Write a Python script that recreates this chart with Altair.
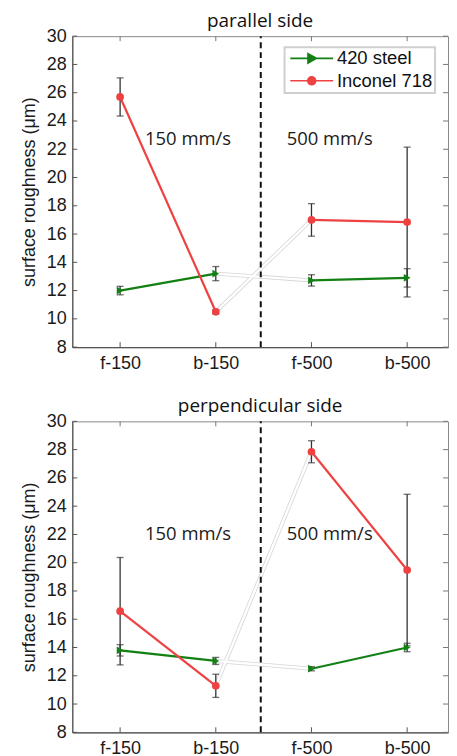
import json
import altair as alt
import pandas as pd

# ---------------- data ----------------
categories = ["f-150", "b-150", "f-500", "b-500"]
positions = [1, 2, 3, 4]
speeds = ["150", "150", "500", "500"]
series_names = ["420 steel", "Inconel 718"]
series_colors = ["#138013", "#ee4242"]

par_steel = [12.0, 13.2, 12.72, 12.9]
par_steel_err = [0.3, 0.5, 0.4, 0.65]
par_inconel = [25.7, 10.5, 17.0, 16.85]
par_inconel_err = [1.35, 0.15, 1.15, 5.3]

perp_steel = [13.8, 13.05, 12.5, 14.0]
perp_steel_err = [0.4, 0.25, 0.15, 0.3]
perp_inconel = [16.57, 11.29, 27.85, 19.48]
perp_inconel_err = [3.8, 0.82, 0.78, 5.36]

y_ticks = [8, 10, 12, 14, 16, 18, 20, 22, 24, 26, 28, 30]
speed_labels = ["150 mm/s", "500 mm/s"]
speed_label_x = [1.71, 3.19]
par_label_y = [22.72, 22.72]
perp_label_y = [22.02, 22.02]
divider_x = 2.47

W, H = 377, 312
X_STEP = 96.0  # pixels between categories

legend_shapes = [
    "M-4.3,0H4.3M-0.75,-0.95L0.95,0L-0.75,0.95Z",
    "M-4.3,0H4.3M0.8,0A0.8,0.8,0,1,1,-0.8,0A0.8,0.8,0,1,1,0.8,0Z",
]


def panel(title, steel, steel_err, inconel, inconel_err, label_y, show_legend):
    rows = []
    for name, vals, errs in ((series_names[0], steel, steel_err),
                             (series_names[1], inconel, inconel_err)):
        for p, c, s, v, e in zip(positions, categories, speeds, vals, errs):
            rows.append(dict(series=name, pos=p, cat=c, speed=s, value=v,
                             lo=v - e, hi=v + e))
    df = pd.DataFrame(rows)
    base = alt.Chart(df)

    xscale = alt.Scale(domain=[0.5, 0.5 + W / X_STEP], nice=False, zero=False)
    yscale = alt.Scale(domain=[8, 30], nice=False, zero=False)
    cscale = alt.Scale(domain=series_names, range=series_colors)

    x_axis = alt.Axis(values=positions, labelExpr=json.dumps(categories) + "[datum.value - 1]",
                      title=None, grid=False, ticks=False, labelPadding=7, labelOverlap=False)
    y_axis = alt.Axis(values=y_ticks, title="surface roughness (μm)", grid=False,
                      ticks=False, labelPadding=6, titlePadding=8, labelOverlap=False,
                      labelFlush=False)

    def X(f):
        return alt.X(f, scale=xscale, axis=x_axis)

    def Y(f):
        return alt.Y(f, scale=yscale, axis=y_axis)

    faint = base.transform_filter("datum.pos == 2 || datum.pos == 3")
    faint_outer = faint.mark_line(color="#d6d6d6", strokeWidth=4).encode(
        x=X("pos:Q"), y=Y("value:Q"), detail="series:N")
    faint_inner = faint.mark_line(color="white", strokeWidth=2.4).encode(
        x=X("pos:Q"), y=Y("value:Q"), detail="series:N")

    lines = base.mark_line(strokeWidth=2.2).encode(
        x=X("pos:Q"), y=Y("value:Q"),
        color=alt.Color("series:N", scale=cscale, legend=None),
        detail=["series:N", "speed:N"])

    err = base.mark_rule(color="#333333", strokeWidth=1.3).encode(
        x=X("pos:Q"), y=Y("lo:Q"), y2="hi:Q")
    cap_lo = base.mark_tick(orient="horizontal", color="#333333", thickness=1.3, size=7).encode(
        x=X("pos:Q"), y=Y("lo:Q"))
    cap_hi = base.mark_tick(orient="horizontal", color="#333333", thickness=1.3, size=7).encode(
        x=X("pos:Q"), y=Y("hi:Q"))

    pts = base.mark_point(filled=True, opacity=1, size=60).encode(
        x=X("pos:Q"), y=Y("value:Q"),
        color=alt.Color("series:N", scale=cscale, legend=None),
        shape=alt.Shape("series:N", scale=alt.Scale(domain=series_names,
                                                    range=["triangle-right", "circle"]),
                        legend=None))

    ann = alt.Chart(pd.DataFrame({"t": speed_labels, "pos": speed_label_x, "value": label_y})).mark_text(
        font="Open Sans", fontSize=18.5, color="#1a1a1a", baseline="middle", align="center").encode(
        x=X("pos:Q"), y=Y("value:Q"), text="t:N")

    div = alt.Chart(pd.DataFrame({"pos": [divider_x], "value": [8], "top": [30]})).mark_rule(
        color="#111111", strokeWidth=2, strokeDash=[6, 4]).encode(
        x=X("pos:Q"), y=Y("value:Q"), y2="top:Q")

    ytk = alt.Chart(pd.DataFrame({"value": y_ticks}))
    xtk = alt.Chart(pd.DataFrame({"pos": positions}))
    tick_l = ytk.mark_rule(color="#555555", strokeWidth=1).encode(
        y=Y("value:Q"), x=alt.value(0), x2=alt.value(5))
    tick_r = ytk.mark_rule(color="#777777", strokeWidth=1).encode(
        y=Y("value:Q"), x=alt.value(W - 5), x2=alt.value(W))
    tick_b = xtk.mark_rule(color="#555555", strokeWidth=1).encode(
        x=X("pos:Q"), y=alt.value(H), y2=alt.value(H - 5))
    tick_t = xtk.mark_rule(color="#777777", strokeWidth=1).encode(
        x=X("pos:Q"), y=alt.value(0), y2=alt.value(5))

    layers = [faint_outer, faint_inner, div, tick_l, tick_r, tick_b, tick_t,
              lines, err, cap_lo, cap_hi, pts, ann]

    if show_legend:
        leg_kw = dict(
            title=None, orient="none", legendX=213, legendY=11, direction="vertical",
            labelFont="Liberation Sans", labelFontSize=18.5, labelColor="#111111",
            padding=2, rowPadding=3.5, symbolSize=100, symbolOffset=16, labelOffset=16,
            symbolStrokeWidth=1.6, symbolOpacity=1,
            strokeColor="#cfcfcf", fillColor="white",
        )
        legend_layer = base.transform_filter("false").mark_point(filled=True, size=100).encode(
            x=X("pos:Q"), y=Y("value:Q"),
            fill=alt.Fill("series:N", scale=alt.Scale(domain=series_names, range=series_colors),
                          legend=alt.Legend(**leg_kw)),
            stroke=alt.Stroke("series:N", scale=alt.Scale(domain=series_names, range=series_colors),
                              legend=alt.Legend(**leg_kw)),
            shape=alt.Shape("series:N", scale=alt.Scale(domain=series_names, range=legend_shapes),
                            legend=alt.Legend(**leg_kw)),
        )
        layers.append(legend_layer)

    out = alt.layer(*layers).properties(
        width=W, height=H,
        title=alt.TitleParams(title, font="Open Sans", fontSize=19, fontWeight="normal",
                              color="#111111", anchor="middle", offset=-3.5),
    )
    if show_legend:
        out = out.resolve_scale(shape="independent", fill="independent", stroke="independent")
    return out


top = panel("parallel side", par_steel, par_steel_err, par_inconel, par_inconel_err,
            par_label_y, True)
bottom = panel("perpendicular side", perp_steel, perp_steel_err, perp_inconel,
               perp_inconel_err, perp_label_y, False)

chart = alt.vconcat(top, bottom, spacing=23.5).resolve_legend(
    shape="independent", fill="independent", stroke="independent"
).properties(
    padding={"left": 11.5, "top": 2, "right": 0, "bottom": 0}
).configure_view(
    stroke="#8a8a8a", strokeWidth=1
).configure_axis(
    labelFont="Liberation Sans", labelFontSize=18, labelColor="#1a1a1a",
    titleFont="Liberation Sans", titleFontSize=18, titleFontWeight="normal",
    titleColor="#1a1a1a", domainColor="#555555", domainWidth=1.2,
).configure_legend(
    strokeWidth=2
)

chart.save("out.html", embed_options={"renderer": "svg", "actions": False})
